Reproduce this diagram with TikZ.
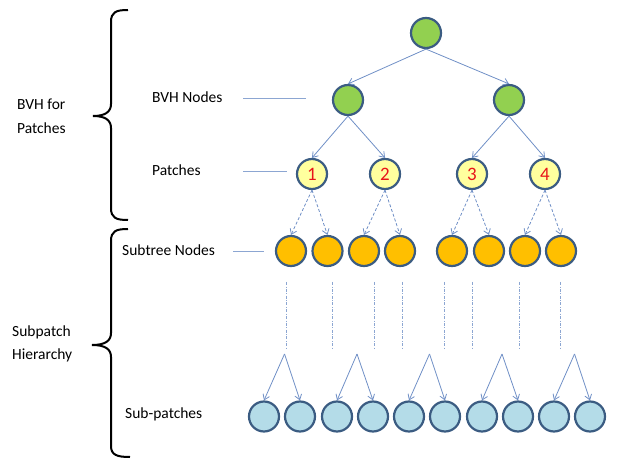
\documentclass[tikz,border=0pt]{standalone}
\usepackage{fontspec}
\setmainfont{Carlito}
\usetikzlibrary{arrows.meta}
\definecolor{outl}{HTML}{3B5C82}
\definecolor{link}{HTML}{6F8FC6}
\definecolor{guide}{HTML}{8CA6D2}
\definecolor{gfill}{HTML}{92D050}
\definecolor{yfill}{HTML}{FFFF9E}
\definecolor{ofill}{HTML}{FFBF00}
\definecolor{bfill}{HTML}{B4DCE8}
\definecolor{numred}{HTML}{E8141A}
\tikzset{
  ball/.style={circle,draw=outl,line width=2.2bp,minimum size=30bp,inner sep=0pt},
  bvh/.style={ball,fill=gfill},
  patch/.style={ball,fill=yfill,text=numred,font=\fontsize{19bp}{20bp}\selectfont},
  subnode/.style={ball,fill=ofill},
  subpatch/.style={ball,fill=bfill},
  lbl/.style={anchor=base west,inner sep=0pt,font=\fontsize{15.5bp}{18bp}\selectfont},
  edge/.style={draw=link,line width=0.8bp,-{Straight Barb[length=5bp,width=7bp]}},
  dedge/.style={edge,dash pattern=on 3bp off 2bp},
  guideline/.style={draw=guide,line width=1bp},
  chain/.style={draw=guide,line width=0.8bp,dash pattern=on 3bp off 1.5bp on 0.8bp off 1.5bp},
  brace/.style={draw=black,line width=2bp}
}
\begin{document}
\begin{tikzpicture}[x=1bp,y=-1bp]
\useasboundingbox (0,0) rectangle (621,459);

% BVH over the patches
\node[bvh] (root) at (426,33) {};
\node[bvh] (b1) at (348,100) {};
\node[bvh] (b2) at (509,100) {};
\node[patch] (p1) at (312,174) {1};
\node[patch] (p2) at (385,174) {2};
\node[patch] (p3) at (472,174) {3};
\node[patch] (p4) at (545,174) {4};
\draw[edge] (root.south) -- (b1.north);
\draw[edge] (root.south) -- (b2.north);
\draw[edge] (b1.south) -- (p1.north);
\draw[edge] (b1.south) -- (p2.north);
\draw[edge] (b2.south) -- (p3.north);
\draw[edge] (b2.south) -- (p4.north);

% subtree roots of each patch
\foreach \i/\x in {1/291,2/327.5,3/364,4/400,5/452,6/489,7/525,8/561}
  \node[subnode] (s\i) at (\x,251) {};
\draw[dedge] (p1.south) -- (s1.north);
\draw[dedge] (p1.south) -- (s2.north);
\draw[dedge] (p2.south) -- (s3.north);
\draw[dedge] (p2.south) -- (s4.north);
\draw[dedge] (p3.south) -- (s5.north);
\draw[dedge] (p3.south) -- (s6.north);
\draw[dedge] (p4.south) -- (s7.north);
\draw[dedge] (p4.south) -- (s8.north);

% elided levels of the subtrees
\foreach \i/\x in {1/286,2/332.7,3/374.3,4/402.7,5/444,6/472.3,7/519.3,8/560.7}{
  \coordinate (ct\i) at (\x,282);
  \coordinate (cb\i) at (\x,348);
  \draw[chain] (ct\i) -- (cb\i);
}

% leaf sub-patches
\foreach \i/\x in {1/264,2/300,3/337,4/373,5/409,6/445,7/482,8/518,9/554,10/590}
  \node[subpatch] (q\i) at (\x,416.5) {};
\foreach \k/\x/\a/\b in {1/284.5/1/2,2/357/3/4,3/429.5/5/6,4/502/7/8,5/574.5/9/10}{
  \coordinate (apex\k) at (\x,354);
  \draw[edge] (apex\k) -- (q\a.north);
  \draw[edge] (apex\k) -- (q\b.north);
}

% level labels
\node[lbl] (lbvh) at (152,103) {BVH Nodes};
\node[lbl] (lpat) at (152,176) {Patches};
\node[lbl] (lsub) at (122,256) {Subtree Nodes};
\node[lbl] (lsp) at (125,418.5) {Sub-patches};
\coordinate (g1a) at (243,99);  \coordinate (g1b) at (306,99);
\coordinate (g2a) at (243,172); \coordinate (g2b) at (287,172);
\coordinate (g3a) at (233,252); \coordinate (g3b) at (264,252);
\draw[guideline] (g1a) -- (g1b);
\draw[guideline] (g2a) -- (g2b);
\draw[guideline] (g3a) -- (g3b);

% group braces and their captions
\draw[brace] (128,10) .. controls (116,10) and (111,12) .. (111,22) -- (111,104)
  .. controls (111,112) and (105,116) .. (93,116)
  .. controls (105,116) and (111,120) .. (111,128) -- (111,208)
  .. controls (111,218) and (116,220) .. (128,220);
\draw[brace] (128,229) .. controls (116,229) and (111,231) .. (111,241) -- (111,333)
  .. controls (111,341) and (105,345) .. (92,345)
  .. controls (105,345) and (111,349) .. (111,357) -- (111,446)
  .. controls (111,455) and (117,457) .. (130,457);
\node[lbl] (gb1) at (17,109.5) {BVH for};
\node[lbl] (gb2) at (17,133.5) {Patches};
\node[lbl] (gs1) at (12,336) {Subpatch};
\node[lbl] (gs2) at (12,359.5) {Hierarchy};
\end{tikzpicture}
\end{document}
